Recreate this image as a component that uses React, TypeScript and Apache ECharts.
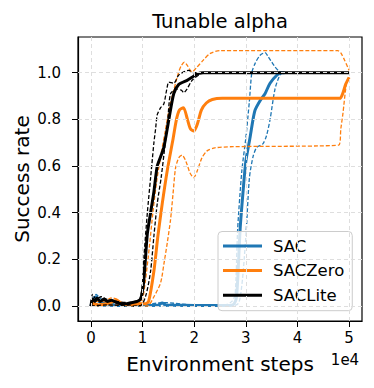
import React, { useEffect, useRef } from 'react';
import * as echarts from 'echarts';

const FONT = 'DejaVu Sans';

const xTicks = [0, 10000, 20000, 30000, 40000, 50000];
const yTicks = [0, 0.2, 0.4, 0.6, 0.8, 1.0];
const algoNames = ['SAC', 'SACZero', 'SACLite'];
const algoColors = ['#1f77b4', '#ff7f0e', '#000000'];

// SAC
const sacMean: [number, number][] = [
  [0, 0.0], [500, 0.03], [1000, 0.04], [1500, 0.02], [2500, 0.015], [4000, 0.005], [6000, 0.002],
  [10000, 0.002], [13000, 0.004], [13800, 0.013], [14600, 0.004], [18000, 0.003], [22000, 0.002],
  [26000, 0.002], [27500, 0.005], [28130, 0.03], [28420, 0.11], [28900, 0.33], [29500, 0.5],
  [30000, 0.62], [30800, 0.72], [31400, 0.8], [31800, 0.84], [32760, 0.88], [33720, 0.91],
  [34690, 0.955], [36040, 0.99], [36800, 1.0], [37500, 1.0],
];
const sacUpper: [number, number][] = [
  [0, 0.0], [1000, 0.05], [2000, 0.03], [4000, 0.01], [10000, 0.005], [14000, 0.015], [20000, 0.005],
  [26000, 0.005], [27300, 0.02], [27940, 0.05], [28420, 0.33], [29230, 0.58], [30000, 0.72],
  [30700, 0.88], [31160, 1.0], [31800, 1.04], [32760, 1.075], [33720, 1.086], [34300, 1.07],
  [35010, 1.046], [35650, 1.025], [36280, 1.01], [37000, 1.0], [37500, 1.0],
];
const sacLower: [number, number][] = [
  [0, 0.0], [5000, 0.0], [15000, 0.0], [27000, 0.0], [28500, 0.01], [29000, 0.05], [29500, 0.15],
  [30100, 0.33], [30700, 0.55], [31400, 0.64], [32100, 0.68], [33300, 0.695], [34000, 0.73],
  [34700, 0.8], [35650, 0.93], [36600, 0.99], [37300, 1.0], [37500, 1.0],
];

// SACZero
const zeroMean: [number, number][] = [
  [0, 0.0], [500, 0.01], [1500, 0.005], [3000, 0.01], [4500, 0.02], [5000, 0.025], [6000, 0.01],
  [8000, 0.005], [9500, 0.01], [10500, 0.01], [11180, 0.02], [12200, 0.15], [12970, 0.3],
  [13820, 0.44], [14780, 0.58], [15940, 0.72], [16570, 0.8], [17150, 0.84], [17920, 0.85],
  [18690, 0.8], [19270, 0.76], [19940, 0.75], [20620, 0.78], [21390, 0.84], [22350, 0.87],
  [23510, 0.885], [25440, 0.89], [48180, 0.89], [48760, 0.91], [49330, 0.95], [50000, 0.98],
];
const zeroUpper: [number, number][] = [
  [0, 0.01], [1000, 0.02], [2000, 0.02], [3000, 0.025], [4000, 0.035], [5000, 0.03], [6000, 0.015],
  [8000, 0.01], [9800, 0.02], [10500, 0.1], [11300, 0.25], [12000, 0.4], [12700, 0.53],
  [13500, 0.64], [14400, 0.75], [15200, 0.85], [16050, 0.926], [16960, 1.0], [17500, 1.03],
  [18100, 1.045], [18700, 1.03], [19560, 1.003], [20400, 1.02], [21770, 1.054], [23120, 1.083],
  [25050, 1.095], [47800, 1.095], [48400, 1.085], [49200, 1.05], [50000, 1.01],
];
const zeroLower: [number, number][] = [
  [0, 0.0], [3000, 0.005], [6000, 0.003], [10900, 0.0], [12200, 0.04], [13500, 0.1], [14130, 0.18],
  [14780, 0.27], [15420, 0.37], [15900, 0.48], [16380, 0.59], [17000, 0.635], [17670, 0.647],
  [18400, 0.62], [19200, 0.57], [19900, 0.55], [20600, 0.58], [21500, 0.635], [22490, 0.665],
  [24000, 0.678], [27500, 0.683], [48000, 0.69], [48400, 0.76], [48810, 0.826], [49470, 0.95],
  [50000, 0.98],
];

// SACLite
const liteMean: [number, number][] = [
  [0, 0.0], [300, 0.03], [800, 0.02], [1200, 0.035], [1800, 0.02], [2500, 0.03], [3200, 0.02],
  [4000, 0.025], [5000, 0.015], [6000, 0.01], [7000, 0.01], [8000, 0.015], [9000, 0.02],
  [9630, 0.03], [10200, 0.1], [10930, 0.31], [11560, 0.4], [12200, 0.49], [12850, 0.6],
  [13500, 0.64], [14130, 0.68], [15100, 0.8], [16050, 0.91], [17020, 0.95], [18630, 0.967],
  [19590, 0.98], [20550, 0.995], [21830, 1.0], [50000, 1.0],
];
const liteUpper: [number, number][] = [
  [0, 0.01], [300, 0.05], [1000, 0.03], [2000, 0.04], [3000, 0.03], [5000, 0.02], [7000, 0.015],
  [8500, 0.02], [9500, 0.03], [10000, 0.1], [10270, 0.21], [10930, 0.4], [11560, 0.55],
  [11900, 0.63], [12200, 0.7], [12530, 0.76], [12850, 0.82], [13500, 0.85], [14130, 0.867],
  [14700, 0.93], [15100, 0.96], [16050, 0.955], [17020, 0.99], [18950, 1.01], [19900, 1.0],
  [50000, 1.0],
];
const liteLower: [number, number][] = [
  [0, 0.0], [3000, 0.005], [8000, 0.0], [9800, 0.005], [10700, 0.05], [11560, 0.15], [12200, 0.3],
  [12850, 0.44], [13600, 0.55], [14300, 0.68], [14900, 0.8], [15420, 0.91], [16600, 0.93],
  [17500, 0.925], [18000, 0.915], [18600, 0.93], [19590, 0.967], [21200, 0.995], [22000, 1.0],
  [50000, 1.0],
];

const groups = [
  { mean: sacMean, upper: sacUpper, lower: sacLower },
  { mean: zeroMean, upper: zeroUpper, lower: zeroLower },
  { mean: liteMean, upper: liteUpper, lower: liteLower },
];

export default function App() {
  const ref = useRef<HTMLDivElement>(null);
  useEffect(() => {
    if (!ref.current) return;
    const chart = echarts.init(ref.current, null, { renderer: 'svg' });
    const series: any[] = [];
    series.push({
      type: 'line',
      name: 'grid',
      data: [],
      silent: true,
      z: 0,
      markLine: {
        silent: true,
        symbol: ['none', 'none'],
        label: { show: false },
        lineStyle: { type: [4, 3], color: '#dedede', width: 1 },
        data: [
          ...xTicks.map((v) => ({ xAxis: v })),
          ...yTicks.map((v) => ({ yAxis: v })),
        ],
      },
    });
    groups.forEach((g, i) => {
      const color = algoColors[i];
      const z = 2 + i;
      series.push({
        type: 'line', name: algoNames[i] + ' upper', data: g.upper, showSymbol: false, symbol: 'none',
        smooth: 0.25, z, lineStyle: { color, width: 1.3, type: [4, 2] }, itemStyle: { color },
      });
      series.push({
        type: 'line', name: algoNames[i] + ' lower', data: g.lower, showSymbol: false, symbol: 'none',
        smooth: 0.25, z, lineStyle: { color, width: 1.3, type: [4, 2] }, itemStyle: { color },
      });
      series.push({
        type: 'line', name: algoNames[i], data: g.mean, showSymbol: false, symbol: 'none',
        smooth: 0.25, z, lineStyle: { color, width: 3 }, itemStyle: { color },
      });
    });

    chart.setOption({
      animation: false,
      grid: {
        left: 78, top: 37, right: 12, bottom: 67, show: true,
        borderColor: '#000', borderWidth: 1.2, backgroundColor: 'transparent',
      },
      xAxis: {
        type: 'value', min: -2500, max: 52500,
        splitLine: { show: false },
        axisLine: { show: true, onZero: false, lineStyle: { color: '#000', width: 1.2 } },
        axisTick: { show: true, length: 6, lineStyle: { color: '#000' }, customValues: xTicks },
        axisLabel: {
          customValues: xTicks, margin: 9, color: '#000', fontFamily: FONT, fontSize: 15,
          formatter: (v: number) => String(Math.round(v / 10000)),
        },
      },
      yAxis: {
        type: 'value', min: -0.064, max: 1.153,
        splitLine: { show: false },
        axisLine: { show: true, onZero: false, lineStyle: { color: '#000', width: 1.2 } },
        axisTick: { show: true, length: 6, lineStyle: { color: '#000' }, customValues: yTicks },
        axisLabel: {
          customValues: yTicks, margin: 17, color: '#000', fontFamily: FONT, fontSize: 15,
          formatter: (v: number) => v.toFixed(1),
        },
      },
      legend: {
        data: algoNames,
        orient: 'vertical',
        left: 218, top: 231.5,
        icon: 'rect', itemWidth: 39, itemHeight: 3, itemGap: 5.6,
        padding: [5, 8, 6, 5],
        backgroundColor: 'rgba(255,255,255,0.8)',
        borderColor: '#cccccc', borderWidth: 1, borderRadius: 4,
        textStyle: { fontFamily: FONT, fontSize: 16.5, color: '#000', lineHeight: 19, padding: [0, 0, 0, 6] },
      },
      graphic: [
        { type: 'text', x: 220, y: 21, style: { text: 'Tunable alpha', font: `19.5px "${FONT}"`, fill: '#000', align: 'center', verticalAlign: 'middle' } },
        { type: 'text', x: 220, y: 364, style: { text: 'Environment steps', font: `20px "${FONT}"`, fill: '#000', align: 'center', verticalAlign: 'middle' } },
        { type: 'text', x: 22, y: 179, rotation: Math.PI / 2, style: { text: 'Success rate', font: `20px "${FONT}"`, fill: '#000', align: 'center', verticalAlign: 'middle' } },
        { type: 'text', x: 345, y: 360, style: { text: '1e4', font: `15px "${FONT}"`, fill: '#000', align: 'center', verticalAlign: 'middle' } },
      ],
      series,
    });
    return () => chart.dispose();
  }, []);
  return <div ref={ref} style={{ width: 374, height: 388, position: 'absolute', left: 0, top: 0 }} />;
}
